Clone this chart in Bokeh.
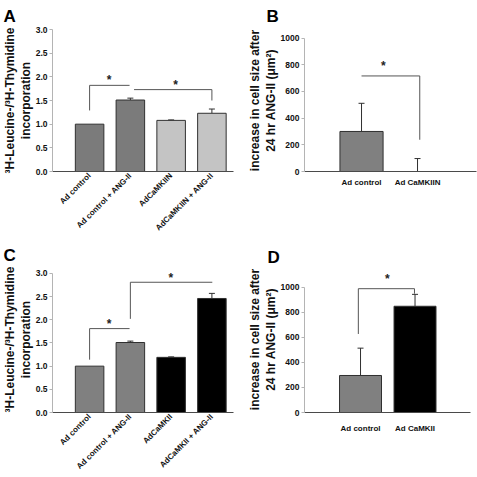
from math import pi
from bokeh.plotting import figure
from bokeh.layouts import column, row
from bokeh.models import (Range1d, FixedTicker, NumeralTickFormatter, Title,
                          Whisker, ColumnDataSource, TeeHead)
from bokeh.core.properties import value
from bokeh.embed import file_html
from bokeh.resources import INLINE

FONT = "Liberation Sans"

# ---------------- data ----------------
# Panel A
a_labels = ["Ad control", "Ad control + ANG-II", "AdCaMKIIN", "AdCaMKIIN + ANG-II"]
a_values = [1.00, 1.51, 1.08, 1.23]
a_upper = [1.00, 1.55, 1.09, 1.32]
a_colors = ["#7b7b7b", "#7b7b7b", "#c4c4c4", "#c4c4c4"]
a_ticks = [0.0, 0.5, 1.0, 1.5, 2.0, 2.5, 3.0]
a_bracket_x = [[1.0, 1.0, 1.98], [2.09, 4.0, 4.0]]
a_bracket_y = [[1.29, 1.82, 1.82], [1.73, 1.73, 1.50]]
a_star_x = [1.48, 3.11]
a_star_y = [1.93, 1.83]

# Panel B
b_labels = ["Ad control", "Ad CaMKIIN"]
b_values = [300, 0]
b_upper = [511, 97]
b_colors = ["#808080", "#808080"]
b_ticks = [0, 200, 400, 600, 800, 1000]
b_bracket_x = [[1.0, 2.04, 2.04]]
b_bracket_y = [[716, 716, 238]]
b_star_x = [1.39]
b_star_y = [790]

# Panel C
c_labels = ["Ad control", "Ad control + ANG-II", "AdCaMKII", "AdCaMKII + ANG-II"]
c_values = [1.00, 1.51, 1.19, 2.46]
c_upper = [1.00, 1.54, 1.20, 2.57]
c_colors = ["#808080", "#808080", "#000000", "#000000"]
c_ticks = [0.0, 0.5, 1.0, 1.5, 2.0, 2.5, 3.0]
c_bracket_x = [[1.0, 1.0, 1.98], [2.0, 2.0, 4.01]]
c_bracket_y = [[1.14, 1.81, 1.81], [2.02, 2.81, 2.81]]
c_star_x = [1.48, 2.99]
c_star_y = [1.92, 2.90]

# Panel D
d_labels = ["Ad control", "Ad CaMKII"]
d_values = [295, 847]
d_upper = [513, 942]
d_colors = ["#808080", "#000000"]
d_ticks = [0, 200, 400, 600, 800, 1000]
d_bracket_x = [[0.96, 0.96, 1.99, 1.99]]
d_bracket_y = [[626, 987, 987, 947]]
d_star_x = [1.49]
d_star_y = [1065]

y_title_1 = "³H-Leucine-/³H-Thymidine"
y_title_2 = "incorporation"
y_title_3 = "increase in cell size after"
y_title_4 = "24 hr ANG-II (μm²)"


def panel(w, h, left, right, top, bottom, xr, yr):
    p = figure(width=w, height=h, x_range=Range1d(*xr), y_range=Range1d(*yr),
               output_backend="svg", toolbar_location=None, title=None,
               min_border_left=left, min_border_right=right,
               min_border_top=top, min_border_bottom=bottom)
    p.outline_line_color = None
    p.grid.visible = False
    p.background_fill_color = "white"
    p.border_fill_color = "white"
    return p


def style_axes(p, labels, yticks, yfmt, rotate, ybounds, xstandoff):
    xa = p.xaxis[0]
    xa.ticker = FixedTicker(ticks=list(range(1, len(labels) + 1)))
    xa.major_label_overrides = {i + 1: lab for i, lab in enumerate(labels)}
    xa.major_tick_line_color = None
    xa.major_tick_out = 0
    xa.major_tick_in = 0
    xa.minor_tick_line_color = None
    xa.minor_tick_out = 0
    xa.axis_label_standoff = 0
    xa.axis_line_color = "#4a4a4a"
    xa.axis_line_width = 1
    xa.major_label_text_font = FONT
    xa.major_label_text_font_style = "bold"
    xa.major_label_text_color = "#111111"
    xa.major_label_text_font_size = "8px"
    xa.major_label_standoff = xstandoff
    if rotate:
        xa.major_label_orientation = pi / 4

    ya = p.yaxis[0]
    ya.ticker = FixedTicker(ticks=yticks)
    ya.formatter = NumeralTickFormatter(format=yfmt)
    ya.bounds = ybounds
    ya.axis_line_color = "#b4b4b4"
    ya.major_tick_line_color = "#b4b4b4"
    ya.major_tick_out = 3
    ya.major_tick_in = 0
    ya.minor_tick_line_color = None
    ya.minor_tick_out = 0
    ya.axis_label_standoff = 0
    ya.major_label_text_font = FONT
    ya.major_label_text_font_style = "bold"
    ya.major_label_text_font_size = "8.5px"
    ya.major_label_text_color = "#111111"
    ya.major_label_standoff = 2


def draw(p, values, upper, colors, width, bx, by, sx, sy):
    xs = list(range(1, len(values) + 1))
    src = ColumnDataSource(dict(x=xs, top=values, color=colors))
    p.vbar(x="x", top="top", width=width, source=src, fill_color="color",
           line_color="#303030", line_width=1)
    ex = [x for x, v, u in zip(xs, values, upper) if u > v]
    el = [v for v, u in zip(values, upper) if u > v]
    eu = [u for v, u in zip(values, upper) if u > v]
    esrc = ColumnDataSource(dict(x=ex, lower=el, upper=eu))
    p.add_layout(Whisker(source=esrc, base="x", lower="lower", upper="upper",
                         dimension="height", line_color="#303030", line_width=1,
                         lower_head=None,
                         upper_head=TeeHead(size=6, line_color="#303030", line_width=1)))
    p.multi_line(xs=bx, ys=by, line_color="#555555", line_width=1)
    p.text(x=sx, y=sy, text=["*"] * len(sx), text_font=value(FONT),
           text_font_style="bold", text_font_size="12px", text_align="center",
           text_baseline="middle", text_color="#222222")


def titles(p, letter, letter_offset, letter_standoff, line_outer, line_inner):
    p.add_layout(Title(text=letter, align="left", offset=letter_offset,
                       text_font=FONT, text_font_style="bold",
                       text_font_size="17px", text_color="#000000",
                       standoff=letter_standoff), "above")
    p.add_layout(Title(text=line_inner, align="center", text_font=FONT,
                       text_font_style="bold", text_font_size="12px",
                       text_color="#111111", standoff=0), "left")
    p.add_layout(Title(text=line_outer, align="center", text_font=FONT,
                       text_font_style="bold", text_font_size="12px",
                       text_color="#111111", standoff=0), "left")


# ---------------- Panel A ----------------
pA = panel(240, 240, 51, 7, 29, 69, (0.09, 4.53), (0.0, 3.0))
style_axes(pA, a_labels, a_ticks, "0.0", True, (0.0, 3.0), 3)
draw(pA, a_values, a_upper, a_colors, 0.7, a_bracket_x, a_bracket_y, a_star_x, a_star_y)
titles(pA, "A", -49, 7, y_title_1, y_title_2)

# ---------------- Panel B ----------------
pB = panel(237, 240, 64, 1, 29, 69, (-0.018, 3.053), (0.0, 1064.0))
style_axes(pB, b_labels, b_ticks, "0", False, (0, 1000), 6)
draw(pB, b_values, b_upper, b_colors, 0.77, b_bracket_x, b_bracket_y, b_star_x, b_star_y)
titles(pB, "B", -38, 7, y_title_3, y_title_4)

# ---------------- Panel C ----------------
pC = panel(240, 237, 51, 7, 26, 64, (0.09, 4.53), (0.0, 3.15))
style_axes(pC, c_labels, c_ticks, "0.0", True, (0.0, 3.0), 3)
draw(pC, c_values, c_upper, c_colors, 0.7, c_bracket_x, c_bracket_y, c_star_x, c_star_y)
titles(pC, "C", -49, 3, y_title_1, y_title_2)

# ---------------- Panel D ----------------
pD = panel(237, 237, 64, 7, 26, 64, (-0.028, 3.018), (0.0, 1164.0))
style_axes(pD, d_labels, d_ticks, "0", False, (0, 1000), 11)
draw(pD, d_values, d_upper, d_colors, 0.77, d_bracket_x, d_bracket_y, d_star_x, d_star_y)
titles(pD, "D", -37, 0, y_title_3, y_title_4)

layout = column(row(pA, pB), row(pC, pD))
open("out.html", "w").write(file_html(layout, INLINE))
